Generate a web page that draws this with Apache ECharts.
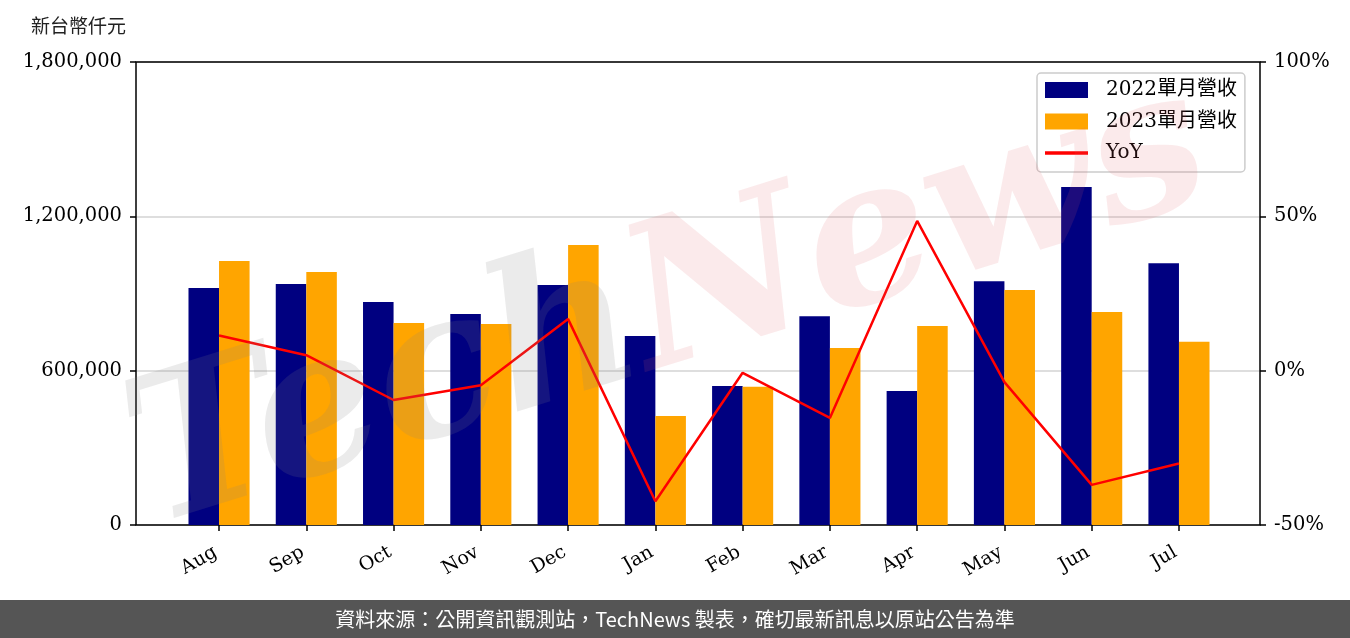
<!DOCTYPE html>
<html>
<head>
<meta charset="utf-8">
<script src="https://cdn.jsdelivr.net/npm/echarts@6/dist/echarts.min.js"></script>
<style>
html,body{margin:0;padding:0;background:#fff;}
#c{width:1350px;height:638px;}
</style>
</head>
<body>
<div id="c"></div>
<script>
const categories = ['Aug','Sep','Oct','Nov','Dec','Jan','Feb','Mar','Apr','May','Jun','Jul'];
const rev2022 = [921000, 937000, 867000, 820000, 933000, 735000, 540000, 812000, 521000, 948000, 1314000, 1018000];
const rev2023 = [1026000, 984000, 785000, 781000, 1089000, 424000, 537000, 688000, 774000, 914000, 828000, 712000];
const yoy = [11.4, 5.0, -9.5, -4.7, 16.7, -42.3, -0.7, -15.3, 48.5, -3.7, -37.0, -30.1];
const leftTicks = [0, 600000, 1200000, 1800000];
const rightTicks = [-50, 0, 50, 100];
const names = ['2022單月營收', '2023單月營收', 'YoY'];
const unitLabel = '新台幣仟元';
const footerText = '資料來源：公開資訊觀測站，TechNews 製表，確切最新訊息以原站公告為準';

const serif = 'DejaVu Serif';
const chart = echarts.init(document.getElementById('c'));
const fmt = v => v.toString().replace(/\B(?=(\d{3})+(?!\d))/g, ',');

chart.setOption({
  animation: false,
  backgroundColor: '#fff',
  grid: [
    {left: 175.4, right: 127.4, top: 62, bottom: 113},
    {left: 136, right: 90, top: 62, bottom: 113, show: true, borderColor: '#000', borderWidth: 1.5, backgroundColor: 'transparent', z: 1}
  ],
  xAxis: [
    {type: 'category', gridIndex: 0, data: categories, boundaryGap: true,
     axisLine: {show: false},
     axisTick: {show: true, alignWithLabel: true, length: 6, lineStyle: {color: '#000', width: 1.5}},
     axisLabel: {rotate: 30, margin: 24, padding: [0, 4, 0, 0], fontFamily: serif, fontSize: 19, color: '#000'}},
    {type: 'value', gridIndex: 1, show: false, min: 0, max: 1}
  ],
  yAxis: [
    {type: 'value', gridIndex: 1, position: 'left', min: leftTicks[0], max: leftTicks[leftTicks.length-1], interval: 600000,
     axisLine: {show: false},
     axisTick: {show: true, length: 6, lineStyle: {color: '#000', width: 1.5}},
     axisLabel: {formatter: v => fmt(v), fontFamily: serif, fontSize: 19.5, color: '#000', margin: 14},
     splitLine: {show: true, lineStyle: {color: '#d3d3d3', width: 1.5}}},
    {type: 'value', gridIndex: 1, position: 'right', min: rightTicks[0], max: rightTicks[rightTicks.length-1], interval: 50,
     axisLine: {show: false},
     axisTick: {show: true, length: 6, lineStyle: {color: '#000', width: 1.5}},
     axisLabel: {formatter: '{value}%', fontFamily: serif, fontSize: 19.5, color: '#000', margin: 14},
     splitLine: {show: false}},
    {type: 'value', gridIndex: 0, show: false, min: leftTicks[0], max: leftTicks[leftTicks.length-1]},
    {type: 'value', gridIndex: 0, show: false, min: rightTicks[0], max: rightTicks[rightTicks.length-1]}
  ],
  legend: {
    orient: 'vertical', left: 1037, top: 73,
    padding: [7, 8, 9, 8],
    borderColor: '#cccccc', borderWidth: 1.5, borderRadius: 4, backgroundColor: 'rgba(255,255,255,0.8)',
    itemWidth: 43, itemHeight: 16, itemGap: 11.5,
    textStyle: {fontFamily: serif + ', Noto Sans CJK TC', fontSize: 20, color: '#000', padding: [0, 0, 0, 13]},
    data: [
      {name: names[0], icon: 'rect'},
      {name: names[1], icon: 'rect'},
      {name: names[2], icon: 'path://M0,0h40v3.4h-40z', itemStyle: {color: '#ff0000'}}
    ]
  },
  series: [
    {name: names[0], type: 'bar', xAxisIndex: 0, yAxisIndex: 2, data: rev2022, barWidth: '35%', barGap: '0%', itemStyle: {color: '#000080'}},
    {name: names[1], type: 'bar', xAxisIndex: 0, yAxisIndex: 2, data: rev2023, barWidth: '35%', barGap: '0%', itemStyle: {color: '#ffa500'}},
    {name: names[2], type: 'line', xAxisIndex: 0, yAxisIndex: 3, data: yoy, symbol: 'none', showSymbol: false,
     lineStyle: {color: '#ff0000', width: 2.5}, itemStyle: {color: '#ff0000'}, z: 3}
  ],
  graphic: [
    {type: 'text', left: 31, top: 16, style: {text: unitLabel, font: '19px "Noto Sans CJK TC"', fill: '#222'}},
    {type: 'text', x: 670, y: 310, rotation: 0.3, silent: true, z: 50,
     style: {text: '{a|Tech}{b|News}', align: 'center', verticalAlign: 'middle',
       rich: {
         a: {fontFamily: 'DejaVu Serif', fontStyle: 'italic', fontWeight: 'bold', fontSize: 200, fill: 'rgba(128,128,128,0.16)'},
         b: {fontFamily: 'DejaVu Serif', fontStyle: 'italic', fontWeight: 'bold', fontSize: 200, fill: 'rgba(225,90,100,0.13)'}
       }}},
    {type: 'rect', left: 0, top: 600, shape: {width: 1350, height: 38}, style: {fill: '#555555'}, z: 60},
    {type: 'text', x: 675, y: 619, z: 61, style: {text: footerText, font: '20px "Noto Sans CJK TC"', fill: '#ffffff', align: 'center', verticalAlign: 'middle'}}
  ]
});
</script>
</body>
</html>
